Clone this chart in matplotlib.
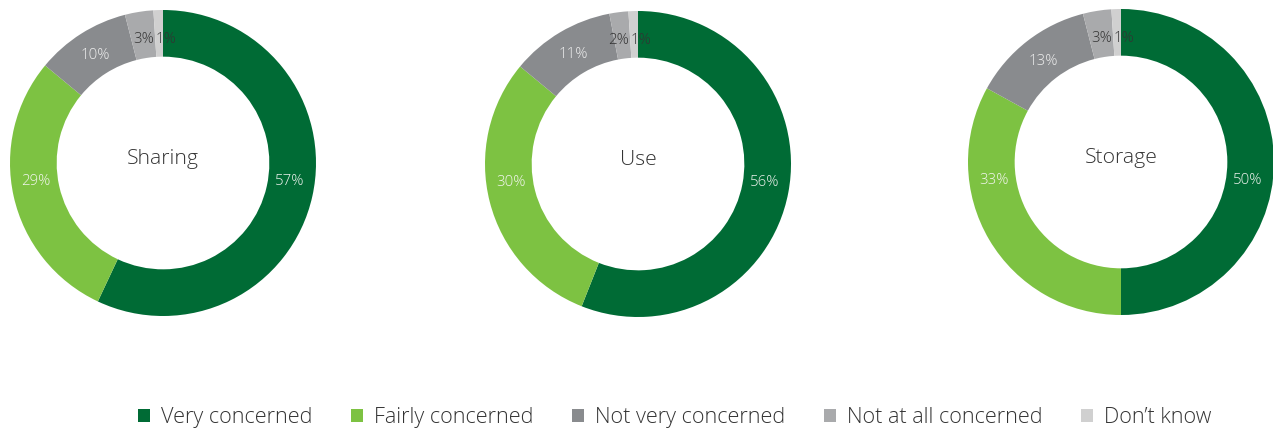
import matplotlib
matplotlib.use('Agg')
import numpy as np
import matplotlib.pyplot as plt
from matplotlib.patches import Patch

plt.rcParams['font.family'] = ['Open Sans', 'DejaVu Sans']
plt.rcParams['font.weight'] = 'light'

categories = ['Very concerned', 'Fairly concerned', 'Not very concerned',
              'Not at all concerned', 'Don\u2019t know']
colors = ['#006b35', '#7dc242', '#898b8e', '#a9aaac', '#d0d0d0']
label_colors = ['#eef2ee', '#f2f5ee', '#eeeeee', '#333333', '#333333']

titles = ['Sharing', 'Use', 'Storage']
sharing = [57, 29, 10, 3, 1]
use = [56, 30, 11, 2, 1]
storage = [50, 33, 13, 3, 1]
series = [sharing, use, storage]

W, H = 1273, 429
fig = plt.figure(figsize=(W / 100, H / 100), dpi=100)

# donut centres and radius in pixels
centres = [(163, 163), (638, 164), (1121, 162)]
r = 153
rm = 0.83  # label radius

for (cx, cy), title, vals in zip(centres, titles, series):
    ax = fig.add_axes([(cx - r) / W, (H - cy - r) / H, 2 * r / W, 2 * r / H])
    wedges, _ = ax.pie(
        vals, colors=colors, startangle=90, counterclock=False,
        wedgeprops=dict(width=0.305, linewidth=0),
    )
    for i, (w, v) in enumerate(zip(wedges, vals)):
        mid = np.deg2rad((w.theta1 + w.theta2) / 2)
        x, y = rm * np.cos(mid), rm * np.sin(mid)
        ha = 'center'
        if i < 2:
            # big slices: labels sit just below the horizontal
            y = -0.12
            x = np.sign(np.cos(mid)) * np.sqrt(0.84 ** 2 - y ** 2)
        elif i >= 3:
            # tiny slices: labels either side of their shared edge
            edge = np.deg2rad(wedges[3].theta1)
            x, y = rm * np.cos(edge), 0.81
            ha = 'right' if i == 3 else 'left'
            x += 0.006 if i == 4 else -0.006
        ax.text(x, y, f'{v}%', ha=ha, va='center', fontsize=10.8,
                color=label_colors[i])
    ax.text(0, 0.025, title, ha='center', va='center', fontsize=15.2,
            color='#333333')
    ax.set_xlim(-1, 1)
    ax.set_ylim(-1, 1)
    ax.set_aspect('equal')
    ax.axis('off')

handles = [Patch(facecolor=c, edgecolor='none') for c in colors]
fig.legend(handles, categories, loc='center', bbox_to_anchor=(0.530, 0.026),
           ncol=5, frameon=False, fontsize=15.6, handlelength=0.55,
           handleheight=0.55, handletextpad=0.5, columnspacing=1.8,
           labelcolor='#333333')

fig.savefig('out.png', dpi=100)
